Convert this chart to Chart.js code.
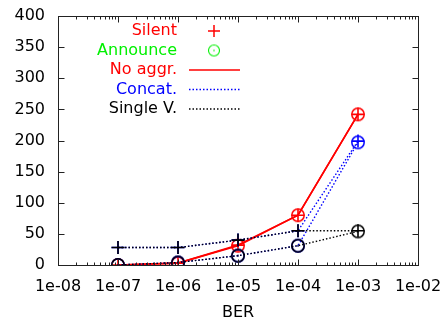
<!DOCTYPE html>
<html>
<head>
<meta charset="utf-8">
<script src="https://cdn.jsdelivr.net/npm/chart.js@4"></script>
<style>
  html, body { margin: 0; padding: 0; background: #fff; }
  canvas { display: block; }
</style>
</head>
<body>
<canvas id="chart" width="445" height="325"></canvas>
<script>
// Bit error rates at which each scheme was measured
const berValues = [1e-7, 1e-6, 1e-5, 1e-4, 1e-3];

// No aggregation
const noAggrSilent   = [0, 3, 32, 80, 242];
const noAggrAnnounce = [0, 3, 31, 80, 242];
// Concatenation
const concatSilent   = [28, 28, 40, 55, 199];
const concatAnnounce = [0, 4, 15, 31, 197];
// Single vote
const singleVSilent   = [28, 28, 40, 55, 55];
const singleVAnnounce = [0, 4, 15, 31, 54];

const xTickValues = [1e-8, 1e-7, 1e-6, 1e-5, 1e-4, 1e-3, 1e-2];
const xTickLabels = ['1e-08', '1e-07', '1e-06', '1e-05', '1e-04', '1e-03', '1e-02'];
const yTickValues = [0, 50, 100, 150, 200, 250, 300, 350, 400];

const legendLabels = ['Silent', 'Announce', 'No aggr.', 'Concat.', 'Single V.'];
const legendColors = ['#ff0000', '#00f000', '#ff0000', '#0000ff', '#000000'];

const FONT_FAMILY = 'DejaVu Sans';
const FONT_SIZE = 16;

// circle with a centre dot, used for the "Announce" marker
function dotCircle(color, r, w) {
  const c = document.createElement('canvas');
  c.width = 16; c.height = 16;
  const g = c.getContext('2d');
  g.strokeStyle = color;
  g.lineWidth = w;
  g.beginPath();
  g.arc(8, 8, r, 0, Math.PI * 2);
  g.stroke();
  g.fillStyle = color;
  g.beginPath();
  g.arc(8, 8, 0.8, 0, Math.PI * 2);
  g.fill();
  return c;
}

function pts(values) {
  return berValues.map((x, i) => ({ x: x, y: values[i] }));
}

function series(label, values, color, dotted, announce) {
  return {
    label: label,
    data: pts(values),
    borderColor: color,
    backgroundColor: color,
    borderWidth: dotted ? 1.4 : 1.6,
    borderDash: dotted ? [1.5, 2] : [],
    pointStyle: announce ? dotCircle(color, 6.2, 1.5) : 'cross',
    pointRadius: 6.5,
    pointBorderWidth: 1.6,
    pointBorderColor: color,
    fill: false,
    tension: 0
  };
}

// drawn in this order (last one ends up on top)
const plotted = [
  series('No aggr. Silent', noAggrSilent, '#ff0000', false, false),
  series('No aggr. Announce', noAggrAnnounce, '#ff0000', false, true),
  series('Concat. Silent', concatSilent, '#0000ff', true, false),
  series('Concat. Announce', concatAnnounce, '#0000ff', true, true),
  series('Single V. Silent', singleVSilent, '#000000', true, false),
  series('Single V. Announce', singleVAnnounce, '#000000', true, true)
];
plotted.forEach((d, i) => { d.order = plotted.length - i; });

const frameAndKey = {
  id: 'frameAndKey',
  afterDraw(chart) {
    const ctx = chart.ctx;
    const a = chart.chartArea;
    const xs = chart.scales.x, ys = chart.scales.y;
    ctx.save();
    ctx.strokeStyle = '#222';
    ctx.lineWidth = 1;
    ctx.setLineDash([]);
    const L = Math.round(a.left) + 0.5, R = Math.round(a.right) + 0.5;
    const T = Math.round(a.top) + 0.5, B = Math.round(a.bottom) + 0.5;
    ctx.strokeRect(L, T, R - L, B - T);

    ctx.beginPath();
    // decade ticks and in-between minor ticks on bottom and top
    xTickValues.forEach((v, i) => {
      const px = Math.round(xs.getPixelForValue(v)) + 0.5;
      ctx.moveTo(px, B); ctx.lineTo(px, B - 6);
      ctx.moveTo(px, T); ctx.lineTo(px, T + 6);
      if (i < xTickValues.length - 1) {
        for (let m = 2; m <= 9; m++) {
          const mx = Math.round(xs.getPixelForValue(v * m)) + 0.5;
          ctx.moveTo(mx, B); ctx.lineTo(mx, B - 3);
          ctx.moveTo(mx, T); ctx.lineTo(mx, T + 3);
        }
      }
    });
    yTickValues.forEach(v => {
      const py = Math.round(ys.getPixelForValue(v)) + 0.5;
      ctx.moveTo(L, py); ctx.lineTo(L + 6, py);
      ctx.moveTo(R, py); ctx.lineTo(R - 6, py);
    });
    ctx.stroke();

    // key
    ctx.font = FONT_SIZE + 'px "' + FONT_FAMILY + '"';
    ctx.textAlign = 'right';
    ctx.textBaseline = 'middle';
    const textRight = a.left + 119;
    const sampleX = a.left + 156;
    const lineX0 = a.left + 131, lineX1 = a.left + 182;
    legendLabels.forEach((label, i) => {
      const y = a.top + 15 + i * 19.5;
      ctx.fillStyle = legendColors[i];
      ctx.fillText(label, textRight, y);
      ctx.strokeStyle = legendColors[i];
      ctx.lineWidth = 1.5;
      ctx.beginPath();
      if (i === 0) {
        ctx.setLineDash([]);
        ctx.moveTo(sampleX - 6, y); ctx.lineTo(sampleX + 6, y);
        ctx.moveTo(sampleX, y - 6); ctx.lineTo(sampleX, y + 6);
        ctx.stroke();
      } else if (i === 1) {
        ctx.drawImage(dotCircle(legendColors[i], 5.5, 1.1), sampleX - 8, y - 8);
      } else {
        ctx.setLineDash(i === 2 ? [] : [1.5, 2]);
        ctx.lineWidth = i === 2 ? 1.6 : 1.4;
        ctx.moveTo(lineX0, y); ctx.lineTo(lineX1, y);
        ctx.stroke();
      }
    });
    ctx.restore();
  }
};

new Chart(document.getElementById('chart'), {
  type: 'line',
  data: { datasets: plotted },
  plugins: [frameAndKey],
  options: {
    responsive: false,
    animation: false,
    devicePixelRatio: 1,
    layout: { padding: { left: 0, right: 27, top: 16, bottom: 0 } },
    plugins: { legend: { display: false }, tooltip: { enabled: false } },
    scales: {
      x: {
        type: 'logarithmic',
        min: 1e-8,
        max: 1e-2,
        afterBuildTicks(scale) { scale.ticks = xTickValues.map(v => ({ value: v })); },
        afterFit(scale) {
          scale.height = 60;
          scale.paddingLeft = 0;
          scale.paddingRight = 0;
        },
        grid: { display: false, drawTicks: false },
        border: { display: false },
        ticks: {
          autoSkip: false,
          maxRotation: 0,
          padding: 12,
          color: '#000',
          font: { family: FONT_FAMILY, size: FONT_SIZE },
          callback: (v, i) => xTickLabels[i]
        },
        title: {
          display: true,
          text: 'BER',
          color: '#000',
          font: { family: FONT_FAMILY, size: FONT_SIZE },
          padding: { top: 0, bottom: 3 }
        }
      },
      y: {
        min: 0,
        max: 400,
        afterBuildTicks(scale) { scale.ticks = yTickValues.map(v => ({ value: v })); },
        afterFit(scale) {
          scale.width = 58;
          scale.paddingTop = 0;
          scale.paddingBottom = 0;
        },
        grid: { display: false, drawTicks: false },
        border: { display: false },
        ticks: {
          padding: 13,
          color: '#000',
          font: { family: FONT_FAMILY, size: FONT_SIZE }
        }
      }
    }
  }
});
</script>
</body>
</html>
